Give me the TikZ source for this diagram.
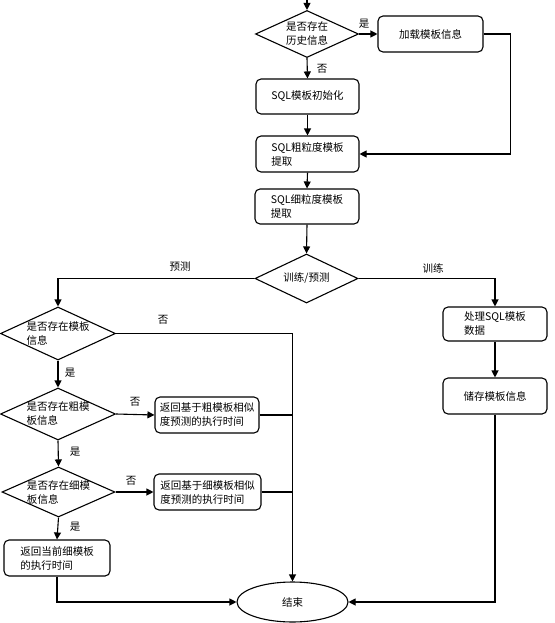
\documentclass[tikz,border=0pt]{standalone}
\usepackage{fontspec}
\newfontfamily\cjkfont{Noto Sans CJK SC}
\usepackage{tikz}
\usetikzlibrary{shapes.geometric}
\usetikzlibrary{arrows.meta}

\newcommand{\flowfont}{\cjkfont\fontsize{10.5}{14}\selectfont}

\begin{document}
\begin{tikzpicture}[x=1pt, y=-1pt, line width=1.1pt,
  box/.style={draw, rounded corners=5pt, inner sep=0pt, align=left, font=\flowfont, minimum width=104pt, minimum height=36pt},
  choice/.style={draw, diamond, aspect=2.2, inner xsep=-3pt, inner ysep=-2pt, align=left, font=\flowfont},
  stopnode/.style={draw, ellipse, inner sep=0pt, font=\flowfont, minimum width=111pt, minimum height=40pt},
  lbl/.style={inner sep=0pt, font=\flowfont},
  arr/.style={-{Triangle[length=7pt,width=7pt]}}]
\useasboundingbox (0,0) rectangle (554,623);

\coordinate (start) at (307,0);
\node[choice, minimum width=103pt, minimum height=47pt] (hist) at (307,34) {是否存在\\历史信息};
\node[box, minimum width=105pt] (load) at (430.5,34) {加载模板信息};
\node[box, minimum width=103pt, minimum height=35pt] (init) at (307.5,96.5) {SQL模板初始化};
\node[box, minimum width=103pt] (coarse) at (307.5,154) {SQL粗粒度模板\\提取};
\node[box, minimum height=35pt] (fine) at (307,206.5) {SQL细粒度模板\\提取};
\node[choice, minimum width=103pt, minimum height=49pt] (mode) at (306.5,278.5) {训练/预测};
\node[box, minimum height=34pt] (proc) at (495,324) {处理SQL模板\\数据};
\node[box] (store) at (495,396) {储存模板信息};
\node[choice, minimum width=115pt, minimum height=53pt] (tpl) at (58,333.5) {是否存在模板\\信息};
\node[choice, minimum width=115pt, minimum height=52pt] (ctpl) at (58,414) {是否存在粗模\\板信息};
\node[box] (cret) at (207,415) {返回基于粗模板相似\\度预测的执行时间};
\node[choice, minimum width=113pt, minimum height=50pt] (ftpl) at (58.5,492) {是否存在细模\\板信息};
\node[box, minimum width=107pt] (fret) at (207.5,492) {返回基于细模板相似\\度预测的执行时间};
\node[box, minimum width=106pt] (cur) at (57,558) {返回当前细模板\\的执行时间};
\node[stopnode] (end) at (292.5,602) {结束};

\node[lbl] (yes1) at (364,24) {是};
\node[lbl] (no1) at (322,69) {否};
\node[lbl] (pred) at (180,267) {预测};
\node[lbl] (train) at (433,268) {训练};
\node[lbl] (no2) at (163,320) {否};
\node[lbl] (yes2) at (70,373) {是};
\node[lbl] (no3) at (135,402) {否};
\node[lbl] (yes3) at (75,452) {是};
\node[lbl] (no4) at (131,481) {否};
\node[lbl] (yes4) at (75,527) {是};

\draw[arr] (start) -- (hist.north);
\draw[arr] (hist.east) -- (load.west);
\draw[arr] (hist.south) -- (init.north);
\draw[arr] (load.east) -- ++(27,0) |- (coarse.east);
\draw[arr] (init.south) -- (coarse.north);
\draw[arr] (coarse.south) -- (fine.north);
\draw[arr] (fine.south) -- (mode.north);
\draw[arr] (mode.west) -| (tpl.north);
\draw[arr] (mode.east) -| (proc.north);
\draw[arr] (proc.south) -- (store.north);
\draw[arr] (store.south) |- (end.east);
\draw[arr] (tpl.east) -| (end.north);
\draw[arr] (tpl.south) -- (ctpl.north);
\draw[arr] (ctpl.east) -- (cret.west);
\draw (cret.east) -- (end.north |- cret.east);
\draw[arr] (ctpl.south) -- (ftpl.north);
\draw[arr] (ftpl.east) -- (fret.west);
\draw (fret.east) -- (end.north |- fret.east);
\draw[arr] (ftpl.south) -- (cur.north);
\draw[arr] (cur.south) |- (end.west);
\end{tikzpicture}
\end{document}
